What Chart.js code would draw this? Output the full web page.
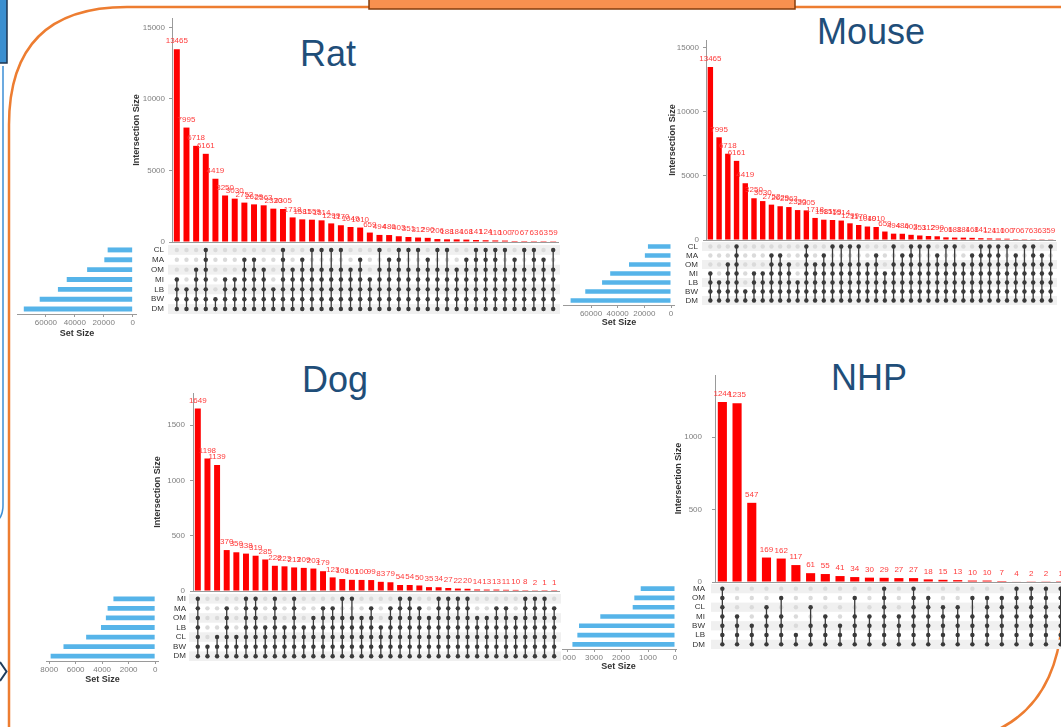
<!DOCTYPE html>
<html lang="en">
<head>
<meta charset="UTF-8">
<title>UpSet plots - Rat, Mouse, Dog, NHP</title>
<script src="https://cdn.jsdelivr.net/npm/chart.js"></script>
<style>
  html, body { margin: 0; padding: 0; background: #fff; }
  #stage { position: relative; width: 1061px; height: 727px; overflow: hidden; background: #fff; }
  #stage canvas { position: absolute; }
  #deco { position: absolute; left: 0; top: 0; }
  .clip { position: absolute; overflow: hidden; }
</style>
</head>
<body>
<div id="stage">
  <svg id="deco" width="1061" height="727" xmlns="http://www.w3.org/2000/svg">
    <!-- slide furniture -->
    <rect x="-3" y="-3" width="10" height="66" fill="#3b8fd0" stroke="#1e3550" stroke-width="1.5"/>
    <path d="M3,66 L3,505 Q3,522 -10,523" fill="none" stroke="#3c8fd6" stroke-width="1.5"/>
    <path d="M9,740 L9,125 Q9,7 127,7 L1070,7" fill="none" stroke="#ed7d31" stroke-width="2.5"/>
    <path d="M1063,600 Q1063,745 920,745" fill="none" stroke="#ed7d31" stroke-width="2.5"/>
    <rect x="369" y="-3" width="426" height="12" fill="#f8904f" stroke="#843c0c" stroke-width="1.5"/>
    <path d="M0,662 L6.5,671.5 L0,681" fill="none" stroke="#1f3d5c" stroke-width="2"/>
    <g font-family="'Liberation Sans', Arial, sans-serif" font-size="36" fill="#1f4e79" text-anchor="middle">
      <text x="328" y="66">Rat</text>
      <text x="871" y="44">Mouse</text>
      <text x="335" y="392">Dog</text>
      <text x="869" y="390">NHP</text>
    </g>
  </svg>
</div>

<script>
// ---- data ----
// Rat and Mouse panels show the same numbers
const ratSets = ['CL', 'MA', 'OM', 'MI', 'LB', 'BW', 'DM'];
const ratSetSizes = [17300, 19600, 31500, 45600, 51700, 64300, 75300];
const ratCounts = [13465, 7995, 6718, 6161, 4419, 3250, 3030, 2752, 2629, 2563,
  2330, 2305, 1718, 1581, 1559, 1514, 1299, 1170, 1049, 1010,
  659, 494, 486, 403, 351, 312, 290, 206, 188, 184,
  168, 141, 124, 110, 100, 70, 67, 63, 63, 59];
// one string per intersection, one char per set (top row first)
const ratMatrix = ['0001111', '0000111', '0011111', '1111111', '0000011', '0001111', '0001111', '0111111',
  '0111111', '0011111', '0000111', '1111111', '0011111', '0111111', '1011111', '1011111',
  '1011111', '1011111', '0011111', '0111111', '0001111', '1011111', '0111111', '1111111',
  '1011111', '1011111', '0111111', '1011111', '1011111', '0011111', '0111111', '1111111',
  '1111111', '1111111', '1011111', '0111111', '1011111', '1111111', '0111111', '1011111'];
const ratBarTicks = [0, 5000, 10000, 15000];
const ratSetTicks = [0, 20000, 40000, 60000];

const mouseSets = ratSets;
const mouseSetSizes = ratSetSizes;
const mouseCounts = ratCounts;
const mouseMatrix = ratMatrix;

const dogSets = ['MI', 'MA', 'OM', 'LB', 'CL', 'BW', 'DM'];
const dogSetSizes = [3150, 3590, 3720, 4090, 5210, 6920, 7890];
const dogCounts = [1649, 1198, 1139, 370, 350, 338, 319, 285, 228, 223,
  213, 209, 203, 179, 123, 108, 101, 100, 99, 83,
  79, 54, 54, 50, 35, 34, 27, 22, 20, 14,
  13, 13, 11, 10, 8, 2, 1, 1];
const dogMatrix = ['1111111', '0000011', '0000111', '0111111', '0000111', '1111111', '1111111', '0001111',
  '1111111', '0001111', '1111111', '0001111', '0011111', '0111111', '0111111', '1011111',
  '1011111', '0011111', '0111111', '0001111', '0111111', '1111111', '1111111', '0111111',
  '0011111', '1111111', '1111111', '1111111', '1111111', '0011111', '0011111', '0111111',
  '0111111', '0011111', '1111111', '1111111', '1111111', '0111111'];
const dogBarTicks = [0, 500, 1000, 1500];
const dogSetTicks = [0, 2000, 4000, 6000, 8000];

const nhpSets = ['MA', 'OM', 'CL', 'MI', 'BW', 'LB', 'DM'];
const nhpSetSizes = [1270, 1507, 1567, 2767, 3556, 3617, 3800];
const nhpCounts = [1244, 1235, 547, 169, 162, 117, 61, 55, 41, 34,
  30, 29, 27, 27, 18, 15, 13, 10, 10, 7, 4, 2, 2, 1];
const nhpMatrix = ['1111111', '0001111', '0000111', '0011111', '0101111', '0000011', '0010111', '0001111',
  '0000111', '0101111', '0001111', '1111111', '0001111', '1111111', '0111111', '0011111',
  '0011111', '0101111', '0111111', '0111111', '1111111', '1111111', '1111111', '1111111'];
const nhpBarTicks = [0, 500, 1000];
const nhpSetTicks = [0, 1000, 2000, 3000, 4000];

// ---- layout of each panel on the slide (px) ----
const ratFrame = { titleX: 131, barL: 172, barR: 558, barT: 18, barB: 242, yMax: 15650, numPad: 4,
  matT: 245, matB: 314, rowPad: 8, setL: 17, setR: 137, setMin: -3000, setMax: 80000, setB: 339 };
const mouseFrame = { titleX: 667, barL: 706, barR: 1055, barT: 40, barB: 240, yMax: 15570, numPad: 4,
  matT: 242, matB: 305, rowPad: 8, setL: 563, setR: 675, setMin: -3000, setMax: 81000, setB: 328 };
const dogFrame = { titleX: 152, barL: 193, barR: 559, barT: 393, barB: 591, yMax: 1790, numPad: 5,
  matT: 594, matB: 661, rowPad: 7, setL: 46, setR: 159, setMin: -290, setMax: 8240, setB: 685 };
const nhpFrame = { titleX: 673, barL: 715, barR: 1068, barT: 375, barB: 582, yMax: 1430, numPad: 10,
  matT: 584, matB: 649, rowPad: 10, setL: 560, setR: 677, setMin: -74, setMax: 4260, setB: 672, clipL: 562 };

const FONT = '"Liberation Sans", Arial, Helvetica, sans-serif';
const AXIS = '#9a9a9a';
const NUM = '#7f7f7f';
const DARK = '#333333';
Chart.defaults.font.family = FONT;
Chart.defaults.layout.autoPadding = false;

const stage = document.getElementById('stage');

function addCanvas(parent, ox, x, y, w, h) {
  const c = document.createElement('canvas');
  c.width = w; c.height = h;
  c.style.left = (x - ox) + 'px';
  c.style.top = y + 'px';
  c.style.width = w + 'px';
  c.style.height = h + 'px';
  parent.appendChild(c);
  return c;
}

function fixedTicks(values) {
  return scale => { scale.ticks = values.map(v => ({ value: v })); };
}

// pin an axis to a given thickness and drop the label overflow padding
function pinWidth(w) {
  return s => { s.width = w; s.paddingTop = 0; s.paddingBottom = 0; };
}
function pinHeight(h) {
  return s => { s.height = h; s.paddingLeft = 0; s.paddingRight = 0; };
}

// red count above each bar
const barLabels = {
  id: 'barLabels',
  afterDatasetsDraw(chart) {
    const ctx = chart.ctx;
    const vals = chart.data.datasets[0].data;
    ctx.save();
    ctx.font = '8px ' + FONT;
    ctx.fillStyle = '#ff3b3b';
    ctx.textAlign = 'center';
    ctx.textBaseline = 'middle';
    chart.getDatasetMeta(0).data.forEach((bar, i) => {
      ctx.fillText(String(vals[i]), bar.x, bar.y - 8);
    });
    ctx.restore();
  }
};

// shaded rows behind the matrix
const stripes = {
  id: 'stripes',
  beforeDatasetsDraw(chart) {
    const { ctx, chartArea: a } = chart;
    const y = chart.scales.y;
    const n = y.getLabels().length;
    const band = (a.bottom - a.top) / n;
    ctx.save();
    ctx.fillStyle = '#f0f0f0';
    for (let i = 0; i < n; i += 2) {
      ctx.fillRect(a.left - 4, y.getPixelForValue(i) - band / 2, a.right - a.left + 6, band);
    }
    ctx.restore();
  }
};

function drawUpset(sets, sizes, counts, matrix, barTicks, setTicks, g) {
  let parent = stage, ox = 0;
  if (g.clipL) {
    parent = document.createElement('div');
    parent.className = 'clip';
    parent.style.left = g.clipL + 'px';
    parent.style.top = '0px';
    parent.style.width = (1061 - g.clipL) + 'px';
    parent.style.height = '727px';
    stage.appendChild(parent);
    ox = g.clipL;
  }
  const cols = counts.map((_, i) => String(i + 1));

  // intersection sizes
  const bTop = g.barT - 6;
  new Chart(addCanvas(parent, ox, g.titleX, bTop, g.barR + 2 - g.titleX, g.barB + 8 - bTop), {
    type: 'bar',
    data: {
      labels: cols,
      datasets: [{ data: counts, backgroundColor: '#ff0000', barPercentage: 0.62, categoryPercentage: 1 }]
    },
    options: {
      responsive: false, animation: false, events: [],
      layout: { padding: { top: 6, right: 2, left: 0, bottom: 0 } },
      plugins: { legend: { display: false }, tooltip: { enabled: false } },
      scales: {
        x: {
          offset: true,
          ticks: { display: false },
          grid: { display: false },
          border: { display: true, color: AXIS },
          afterFit: pinHeight(8)
        },
        y: {
          min: 0, max: g.yMax,
          afterBuildTicks: fixedTicks(barTicks),
          afterFit: pinWidth(g.barL - g.titleX),
          ticks: { color: NUM, font: { size: 8 }, padding: g.numPad, callback: v => String(v) },
          grid: { drawOnChartArea: false, tickLength: 3, color: AXIS },
          border: { color: AXIS },
          title: { display: true, text: 'Intersection Size', color: DARK, padding: 0,
                   font: { size: 9, weight: 'bold' } }
        }
      }
    },
    plugins: [barLabels]
  });

  // membership matrix
  const bg = [], on = [], lines = [];
  matrix.forEach((code, c) => {
    const hit = [];
    sets.forEach((s, r) => {
      bg.push({ x: cols[c], y: s });
      if (code[r] === '1') { on.push({ x: cols[c], y: s }); hit.push(s); }
    });
    lines.push({
      data: [{ x: cols[c], y: hit[0] }, { x: cols[c], y: hit[hit.length - 1] }],
      showLine: true, pointRadius: 0, pointHoverRadius: 0, borderColor: '#3b3b3b', borderWidth: 1.3, order: 1
    });
  });
  new Chart(addCanvas(parent, ox, g.titleX, g.matT, g.barR + 2 - g.titleX, g.matB - g.matT), {
    type: 'scatter',
    data: {
      datasets: [
        { data: on, pointRadius: 2.2, pointHoverRadius: 2.2, pointBackgroundColor: '#3a3a3a', pointBorderWidth: 0, order: 0 },
        ...lines,
        { data: bg, pointRadius: 2.2, pointHoverRadius: 2.2, pointBackgroundColor: '#dadada', pointBorderWidth: 0, order: 2 }
      ]
    },
    options: {
      responsive: false, animation: false, events: [],
      layout: { padding: { top: 0, right: 2, left: 0, bottom: 0 } },
      plugins: { legend: { display: false }, tooltip: { enabled: false } },
      scales: {
        x: { type: 'category', labels: cols, offset: true, display: false },
        y: {
          type: 'category', labels: sets, offset: true,
          afterFit: pinWidth(g.barL - g.titleX),
          ticks: { color: DARK, font: { size: 8 }, padding: g.rowPad, autoSkip: false },
          grid: { display: false, drawTicks: false },
          border: { display: false }
        }
      }
    },
    plugins: [stripes]
  });

  // set sizes
  const sLeft = g.setL - 14;
  new Chart(addCanvas(parent, ox, sLeft, g.matT, g.setR - sLeft, g.setB - g.matT), {
    type: 'bar',
    data: {
      labels: sets,
      datasets: [{ data: sizes, backgroundColor: '#56b4e9', barPercentage: 0.5, categoryPercentage: 1 }]
    },
    options: {
      indexAxis: 'y',
      responsive: false, animation: false, events: [],
      layout: { padding: { top: 0, right: 0, left: 14, bottom: 0 } },
      plugins: { legend: { display: false }, tooltip: { enabled: false } },
      scales: {
        y: { display: false, offset: true },
        x: {
          reverse: true, min: g.setMin, max: g.setMax,
          afterBuildTicks: fixedTicks(setTicks),
          afterFit: pinHeight(g.setB - g.matB),
          ticks: { color: NUM, font: { size: 8 }, padding: 1, maxRotation: 0, autoSkip: false,
                   callback: v => String(v) },
          grid: { drawOnChartArea: false, tickLength: 3, color: AXIS },
          border: { color: AXIS },
          title: { display: true, text: 'Set Size', color: DARK, padding: 0,
                   font: { size: 9, weight: 'bold' } }
        }
      }
    }
  });
}

drawUpset(ratSets, ratSetSizes, ratCounts, ratMatrix, ratBarTicks, ratSetTicks, ratFrame);
drawUpset(mouseSets, mouseSetSizes, mouseCounts, mouseMatrix, ratBarTicks, ratSetTicks, mouseFrame);
drawUpset(dogSets, dogSetSizes, dogCounts, dogMatrix, dogBarTicks, dogSetTicks, dogFrame);
drawUpset(nhpSets, nhpSetSizes, nhpCounts, nhpMatrix, nhpBarTicks, nhpSetTicks, nhpFrame);
</script>
</body>
</html>
